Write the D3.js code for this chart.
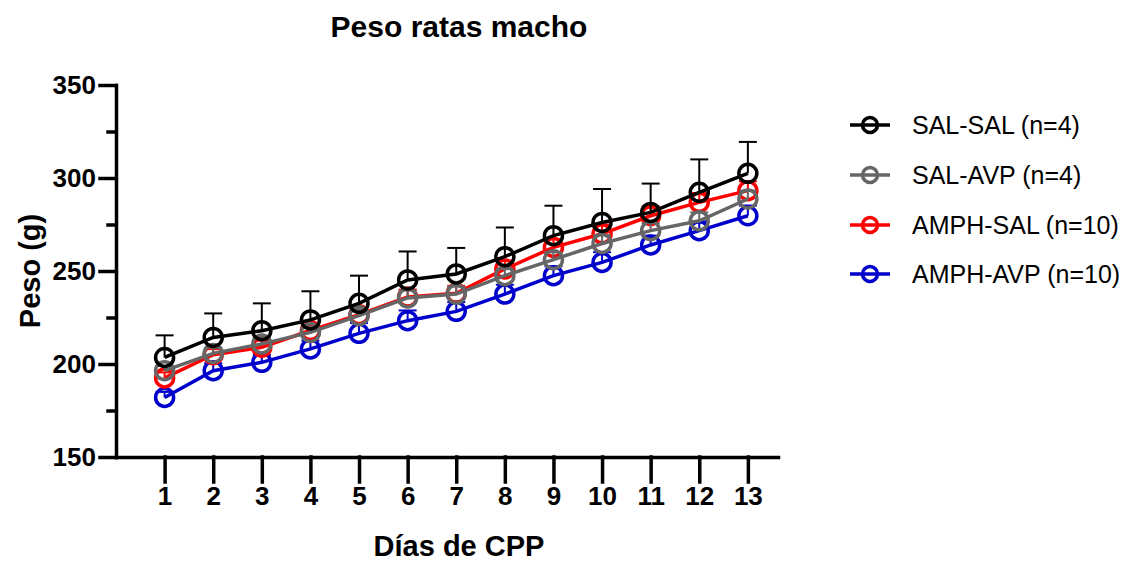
<!DOCTYPE html>
<html>
<head>
<meta charset="utf-8">
<script src="https://cdn.jsdelivr.net/npm/d3@7"></script>
<style>
  body { margin: 0; background: #fff; }
  text { font-family: Arial, "Liberation Sans", sans-serif; }
</style>
</head>
<body>
<svg id="chart" width="1124" height="564"></svg>
<script>
// días de CPP
var days = [1, 2, 3, 4, 5, 6, 7, 8, 9, 10, 11, 12, 13];

// peso medio (g) y error (SEM) por grupo
var salSal     = [203.5, 214.3, 217.9, 223.7, 232.6, 245.2, 248.4, 257.7, 269.0, 276.1, 281.5, 292.3, 302.5];
var salSalErr  = [11.9, 12.9, 14.7, 15.4, 14.9, 15.3, 14.0, 15.7, 16.1, 18.0, 15.5, 17.7, 16.9];
var salAvp     = [196.4, 205.7, 210.8, 217.0, 226.0, 235.5, 237.6, 247.5, 256.1, 264.8, 271.7, 277.0, 288.7];
var salAvpErr  = [2.5, 3, 3.5, 3, 3.5, 4, 4, 3.5, 4, 4.5, 4, 4.5, 4.5];
var amphSal    = [192.5, 205.0, 209.0, 218.0, 226.5, 236.0, 238.0, 251.1, 262.7, 270.0, 279.7, 286.9, 293.2];
var amphSalErr = [3, 3, 3.5, 3, 3.5, 4, 4, 4.5, 4.5, 5, 5, 5, 5];
var amphAvp    = [182.0, 196.4, 200.9, 208.1, 216.5, 223.3, 228.3, 237.6, 247.5, 254.6, 264.0, 271.7, 279.7];
var amphAvpErr = [3, 4, 4, 4.5, 5.5, 5.5, 5, 5, 5, 5.5, 5, 5, 5.5];

var groupNames  = ["SAL-SAL (n=4)", "SAL-AVP (n=4)", "AMPH-SAL (n=10)", "AMPH-AVP (n=10)"];
var groupColors = ["#000000", "#666666", "#ff0000", "#0000cc"];

var yMajor = [150, 200, 250, 300, 350];
var yMinor = [175, 225, 275, 325];

var series = [
  { name: groupNames[0], color: groupColors[0], mean: salSal,  err: salSalErr,  errW: 2 },
  { name: groupNames[1], color: groupColors[1], mean: salAvp,  err: salAvpErr,  errW: 2 },
  { name: groupNames[2], color: groupColors[2], mean: amphSal, err: amphSalErr, errW: 2 },
  { name: groupNames[3], color: groupColors[3], mean: amphAvp, err: amphAvpErr, errW: 2 }
];

var svg = d3.select("#chart");

var x = d3.scaleLinear().domain([0, 13.62]).range([116, 778]);
var y = d3.scaleLinear().domain([150, 350]).range([457, 85]);

// title
svg.append("text")
  .attr("x", 459).attr("y", 37)
  .attr("text-anchor", "middle")
  .attr("font-size", "30px").attr("font-weight", "bold")
  .text("Peso ratas macho");

// y axis
svg.append("g")
  .attr("transform", "translate(116,0)")
  .call(d3.axisLeft(y).tickValues(yMajor).tickSize(16).tickSizeOuter(0).tickPadding(4));

svg.append("g")
  .attr("transform", "translate(116,0)")
  .call(d3.axisLeft(y).tickValues(yMinor).tickSize(8).tickFormat(""))
  .select(".domain").remove();

// x axis
svg.append("g")
  .attr("transform", "translate(0,457)")
  .call(d3.axisBottom(x).tickValues(days).tickSize(25).tickSizeOuter(0).tickPadding(5));

svg.selectAll(".domain, .tick line")
  .attr("stroke", "#000").attr("stroke-width", 3.5).attr("stroke-linecap", "square");

svg.selectAll(".tick text")
  .attr("font-family", "Arial, 'Liberation Sans', sans-serif")
  .attr("font-size", "26px").attr("font-weight", "bold").attr("fill", "#000");

// axis titles
svg.append("text")
  .attr("x", 459).attr("y", 556)
  .attr("text-anchor", "middle")
  .attr("font-size", "29px").attr("font-weight", "bold")
  .text("Días de CPP");

svg.append("text")
  .attr("transform", "translate(40,271) rotate(-90)")
  .attr("text-anchor", "middle")
  .attr("font-size", "29px").attr("font-weight", "bold")
  .text("Peso (g)");

// series, drawn bottom to top
var line = d3.line()
  .x(function(d) { return x(d.day); })
  .y(function(d) { return y(d.v); });

series.slice().reverse().forEach(function(s) {
  var pts = days.map(function(d, i) { return { day: d, v: s.mean[i], e: s.err[i] }; });
  var g = svg.append("g");

  g.selectAll(".err").data(pts).enter().append("line")
    .attr("x1", function(d) { return x(d.day); })
    .attr("x2", function(d) { return x(d.day); })
    .attr("y1", function(d) { return y(d.v); })
    .attr("y2", function(d) { return y(d.v + d.e); })
    .attr("stroke", s.color).attr("stroke-width", s.errW);

  g.selectAll(".cap").data(pts).enter().append("line")
    .attr("x1", function(d) { return x(d.day) - 9; })
    .attr("x2", function(d) { return x(d.day) + 9; })
    .attr("y1", function(d) { return y(d.v + d.e); })
    .attr("y2", function(d) { return y(d.v + d.e); })
    .attr("stroke", s.color).attr("stroke-width", s.errW);

  g.append("path")
    .datum(pts)
    .attr("d", line)
    .attr("fill", "none")
    .attr("stroke", s.color).attr("stroke-width", 3.5);

  g.selectAll("circle").data(pts).enter().append("circle")
    .attr("cx", function(d) { return x(d.day); })
    .attr("cy", function(d) { return y(d.v); })
    .attr("r", 9)
    .attr("fill", "none")
    .attr("stroke", s.color).attr("stroke-width", 3.5);
});

// legend
var legend = svg.append("g").selectAll("g")
  .data(series).enter().append("g")
  .attr("transform", function(d, i) { return "translate(0," + [125, 175, 225, 274][i] + ")"; });

legend.append("line")
  .attr("x1", 850).attr("x2", 890)
  .attr("stroke", function(d) { return d.color; }).attr("stroke-width", 3.5);

legend.append("circle")
  .attr("cx", 870).attr("r", 7.5)
  .attr("fill", "none")
  .attr("stroke", function(d) { return d.color; }).attr("stroke-width", 3.5);

legend.append("text")
  .attr("x", 912).attr("dy", "0.35em")
  .attr("font-size", "25px")
  .text(function(d) { return d.name; });
</script>
</body>
</html>
